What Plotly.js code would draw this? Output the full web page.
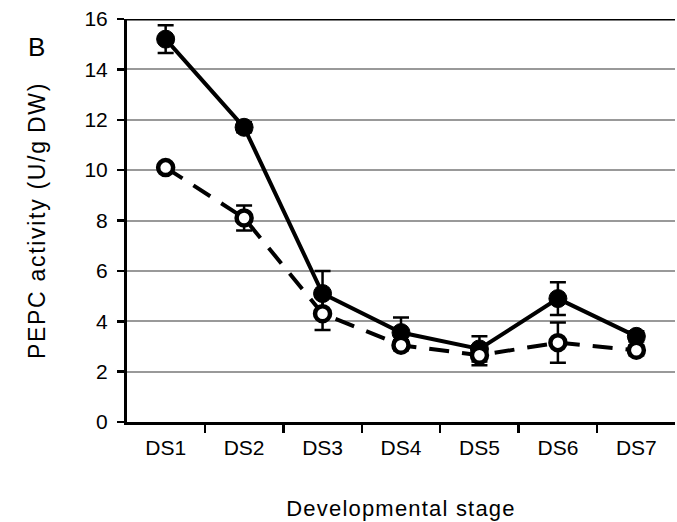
<!DOCTYPE html>
<html>
<head>
<meta charset="utf-8">
<script src="https://cdn.plot.ly/plotly-3.0.1.min.js"></script>
<style>
html, body { margin: 0; padding: 0; background: #fff; }
#chart { width: 677px; height: 522px; }
.g-xtitle text { letter-spacing: 1.2px; }
.g-ytitle text { letter-spacing: 1.7px; }
</style>
</head>
<body>
<div id="chart"></div>
<script>
// Data
const stages = ["DS1", "DS2", "DS3", "DS4", "DS5", "DS6", "DS7"];
const filledValues = [15.2, 11.7, 5.1, 3.55, 2.9, 4.9, 3.4];
const filledErrors = [0.55, 0.2, 0.9, 0.6, 0.5, 0.65, 0.2];
const openValues = [10.1, 8.1, 4.3, 3.05, 2.65, 3.15, 2.85];
const openErrors = [0.15, 0.5, 0.65, 0.2, 0.4, 0.8, 0.2];
const yRange = [0, 16];
const yStep = 2;
const panelLabel = "B";
const xTitle = "Developmental stage";
const yTitle = "PEPC activity (U/g\u2009DW)";

const FONT = "Liberation Sans, Arial, Helvetica, sans-serif";

const traces = [
  {
    x: stages, y: filledValues, type: "scatter", mode: "lines+markers",
    line: { color: "#000", width: 4 },
    marker: { color: "#000", size: 18, line: { color: "#000", width: 1 } },
    error_y: { type: "data", array: filledErrors, visible: true, color: "#000", thickness: 2.5, width: 8 },
    showlegend: false, hoverinfo: "x+y"
  },
  {
    x: stages, y: openValues, type: "scatter", mode: "lines+markers",
    line: { color: "#000", width: 4, dash: "20px,13px" },
    marker: { color: "#fff", size: 15, line: { color: "#000", width: 4.5 } },
    error_y: { type: "data", array: openErrors, visible: true, color: "#000", thickness: 2.5, width: 8 },
    showlegend: false, hoverinfo: "x+y"
  }
];

const layout = {
  width: 677, height: 522,
  margin: { l: 127, r: 2, t: 19, b: 100, pad: 0 },
  paper_bgcolor: "#fff", plot_bgcolor: "#fff",
  font: { family: FONT, color: "#000", size: 21 },
  showlegend: false,
  xaxis: {
    type: "category",
    tickson: "boundaries",
    ticks: "outside", ticklen: 8, tickwidth: 2.5, tickcolor: "#000",
    ticklabelstandoff: 5,
    showline: true, linewidth: 3, linecolor: "#000",
    showgrid: false, zeroline: false,
    tickfont: { family: FONT, size: 21, color: "#000" },
    title: { text: xTitle, font: { family: FONT, size: 22, color: "#000" }, standoff: 43 }
  },
  yaxis: {
    range: yRange, dtick: yStep, tick0: 0,
    ticks: "outside", ticklen: 7, tickwidth: 2.5, tickcolor: "#000",
    ticklabelstandoff: 5,
    showline: true, linewidth: 3, linecolor: "#000",
    showgrid: true, gridcolor: "#999", gridwidth: 2,
    zeroline: false,
    tickfont: { family: FONT, size: 21, color: "#000" },
    title: { text: yTitle, font: { family: FONT, size: 23, color: "#000" }, standoff: 33 }
  },
  shapes: [
    { type: "line", xref: "paper", yref: "y", x0: 0, x1: 1, y0: yRange[1], y1: yRange[1],
      line: { color: "#000", width: 3 } }
  ],
  annotations: [
    { text: panelLabel, xref: "paper", yref: "paper", x: -0.165, y: 0.93,
      xanchor: "center", yanchor: "middle", showarrow: false,
      font: { family: FONT, size: 26, color: "#000" } }
  ]
};

Plotly.newPlot("chart", traces, layout, { displayModeBar: false, staticPlot: true });
</script>
</body>
</html>
